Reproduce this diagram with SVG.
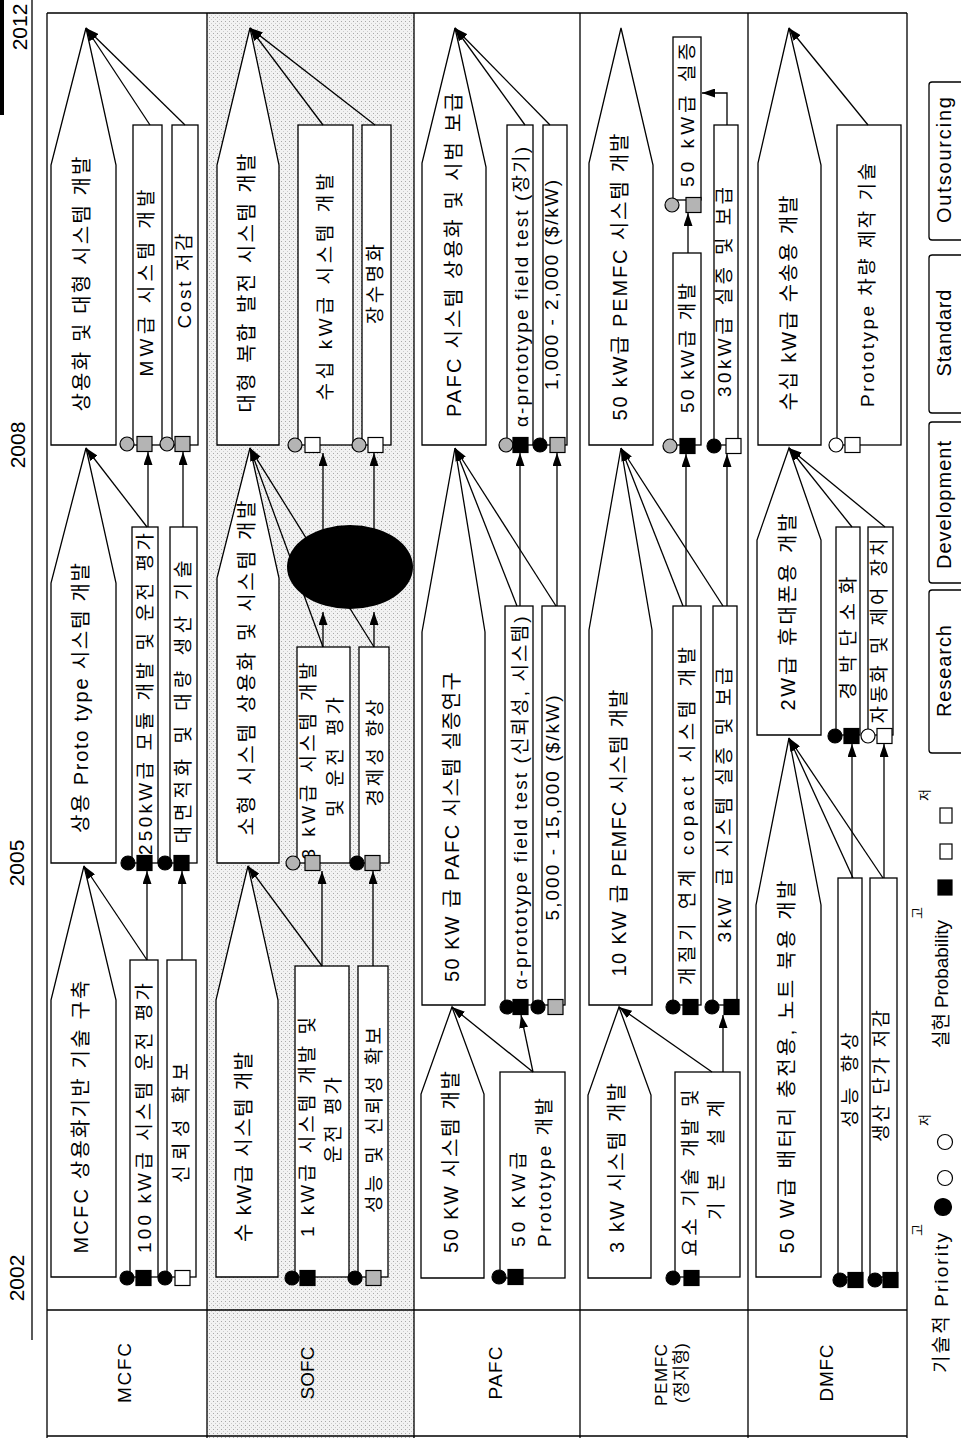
<svg xmlns="http://www.w3.org/2000/svg" width="961" height="1438" viewBox="0 0 961 1438">
<defs>
<style>
text{font-family:"Liberation Sans","Noto Sans CJK KR",sans-serif;fill:#000;text-anchor:middle}
.tp{font-size:20px}
.tb{font-size:19px}
.tl{font-size:19px}
.tl2{font-size:17px}
.tk{font-size:20px}
.ty{font-size:21px}
.ts{font-size:13px}
.st{text-anchor:start}
.fr{stroke:#000;stroke-width:1.3;fill:none}
.nd{fill:#fff;stroke:#000;stroke-width:1.3}
.cn{stroke:#000;stroke-width:1.3;fill:none;marker-end:url(#ah)}
.mk{stroke:#000;stroke-width:1.2}
.b{fill:#000}
.g{fill:#b4b4b4}
.w{fill:#fff}
.lg{fill:#fff;stroke:#000;stroke-width:1.3}
</style>
<pattern id="dots" width="4" height="4" patternUnits="userSpaceOnUse">
<rect width="4" height="4" fill="#f2f2f2"/>
<rect x="1" y="1" width="1" height="1" fill="#a8a8a8"/>
<rect x="3" y="3" width="1" height="1" fill="#cccccc"/>
</pattern>
<marker id="ah" viewBox="0 0 13 9" refX="13" refY="4.5" markerWidth="13" markerHeight="9" orient="auto" markerUnits="userSpaceOnUse">
<path d="M0,0 L13,4.5 L0,9 z" fill="#000"/>
</marker>
</defs>

<g id="background">
<rect x="207" y="13" width="207" height="1425" fill="url(#dots)"/>
<rect x="0" y="0" width="4" height="115" fill="#000"/>
<path class="fr" d="M32,0 V1340"/>
<path class="fr" d="M47,13 H907 M47,13 V1438 M907,13 V1438 M207,13 V1438 M414,13 V1438 M580,13 V1438 M748,13 V1438 M47,1310 H907 M47,1436 H907"/>
</g>

<g id="years">
<text class="ty" transform="translate(20,27) rotate(-90)" y="7">2012</text>
<text class="ty" transform="translate(18,445) rotate(-90)" y="7">2008</text>
<text class="ty" transform="translate(17,863) rotate(-90)" y="7">2005</text>
<text class="ty" transform="translate(17,1278) rotate(-90)" y="7">2002</text>
</g>

<g id="row-labels">
<text class="tl" transform="translate(124,1373) rotate(-90)" y="7" textLength="60">MCFC</text>
<text class="tl" transform="translate(307,1373) rotate(-90)" y="7" textLength="53">SOFC</text>
<text class="tl" transform="translate(495,1373) rotate(-90)" y="7" textLength="53">PAFC</text>
<text class="tl2" transform="translate(661,1375) rotate(-90)" y="6" textLength="62">PEMFC</text>
<text class="tl2" transform="translate(681,1373) rotate(-90)" y="6" textLength="60">(정지형)</text>
<text class="tl" transform="translate(826,1373) rotate(-90)" y="7" textLength="57">DMFC</text>
</g>

<!-- MCFC -->
<g id="mcfc-s3">
<polygon class="nd" points="51,445 51,165 86,28 116,165 116,445"/>
<text class="tp" transform="translate(82,284) rotate(-90)" y="7" textLength="255">상용화 및 대형 시스템 개발</text>
</g>
<g id="mcfc-s3-mw">
<rect class="nd" x="133" y="125" width="29" height="320"/>
<text class="tb" transform="translate(146,283) rotate(-90)" y="7" textLength="187">MW급 시스템 개발</text>
<circle class="mk g" cx="127" cy="444" r="7"/><rect class="mk g" x="137" y="436.5" width="15" height="15"/>
</g>
<g id="mcfc-s3-cost">
<rect class="nd" x="172" y="125" width="26" height="320"/>
<text class="tb" transform="translate(184,281) rotate(-90)" y="7" textLength="95">Cost 저감</text>
<circle class="mk g" cx="167" cy="444" r="7"/><rect class="mk g" x="175" y="436.5" width="15" height="15"/>
</g>
<g id="mcfc-s2">
<polygon class="nd" points="51,863 51,583 86,448 116,583 116,863"/>
<text class="tp" transform="translate(81,698) rotate(-90)" y="7" textLength="270">상용 Proto type 시스템 개발</text>
</g>
<g id="mcfc-s2-250">
<rect class="nd" x="132" y="527" width="26" height="336"/>
<text class="tb" transform="translate(145,694) rotate(-90)" y="7" textLength="322">250kW급 모듈 개발 및 운전 평가</text>
<circle class="mk b" cx="128" cy="863" r="7"/><rect class="mk b" x="137" y="855.5" width="15" height="15"/>
</g>
<g id="mcfc-s2-area">
<rect class="nd" x="170" y="527" width="27" height="336"/>
<text class="tb" transform="translate(183,702) rotate(-90)" y="7" textLength="283">대면적화 및 대량 생산 기술</text>
<circle class="mk b" cx="165" cy="863" r="7"/><rect class="mk b" x="174" y="855.5" width="15" height="15"/>
</g>
<g id="mcfc-s1">
<polygon class="nd" points="51,1277 51,1000 84,866 116,1000 116,1277"/>
<text class="tp" transform="translate(81,1117) rotate(-90)" y="7" textLength="273">MCFC 상용화기반 기술 구축</text>
</g>
<g id="mcfc-s1-100">
<rect class="nd" x="130" y="960" width="28" height="317"/>
<text class="tb" transform="translate(144,1118) rotate(-90)" y="7" textLength="270">100 kW급 시스템 운전 평가</text>
<circle class="mk b" cx="127" cy="1278" r="7"/><rect class="mk b" x="136" y="1270.5" width="15" height="15"/>
</g>
<g id="mcfc-s1-rel">
<rect class="nd" x="167" y="960" width="29" height="317"/>
<text class="tb" transform="translate(181,1123) rotate(-90)" y="7" textLength="120">신뢰성 확보</text>
<circle class="mk b" cx="165" cy="1278" r="7"/><rect class="mk w" x="175" y="1270.5" width="15" height="15"/>
</g>

<!-- SOFC -->
<g id="sofc-s3">
<polygon class="nd" points="217,445 217,165 250,28 279,165 279,445"/>
<text class="tp" transform="translate(247,283) rotate(-90)" y="7" textLength="259">대형 복합 발전 시스템 개발</text>
</g>
<g id="sofc-s3-tens">
<rect class="nd" x="298" y="125" width="55" height="320"/>
<text class="tb" transform="translate(325,287) rotate(-90)" y="7" textLength="227">수십 kW급 시스템 개발</text>
<circle class="mk g" cx="295" cy="445" r="7"/><rect class="mk w" x="305" y="437.5" width="15" height="15"/>
</g>
<g id="sofc-s3-life">
<rect class="nd" x="362" y="125" width="29" height="320"/>
<text class="tb" transform="translate(375,284) rotate(-90)" y="7" textLength="80">장수명화</text>
<circle class="mk g" cx="359" cy="445" r="7"/><rect class="mk w" x="368" y="437.5" width="15" height="15"/>
</g>
<g id="sofc-s2">
<polygon class="nd" points="217,863 217,578 250,448 279,578 279,863"/>
<text class="tp" transform="translate(247,668) rotate(-90)" y="7" textLength="335">소형 시스템 상용화 및 시스템 개발</text>
</g>
<g id="sofc-s2-3kw">
<rect class="nd" x="297" y="647" width="53" height="216"/>
<text class="tb" transform="translate(308,761) rotate(-90)" y="7" textLength="197">3 kW급 시스템 개발</text>
<text class="tb" transform="translate(335,757) rotate(-90)" y="7" textLength="120">및 운전 평가</text>
<circle class="mk g" cx="293" cy="863" r="7"/><rect class="mk g" x="305" y="855.5" width="15" height="15"/>
</g>
<g id="sofc-s2-econ">
<rect class="nd" x="359" y="647" width="30" height="216"/>
<text class="tb" transform="translate(375,753) rotate(-90)" y="7" textLength="107">경제성 향상</text>
<circle class="mk b" cx="357" cy="863" r="7"/><rect class="mk g" x="365" y="855.5" width="15" height="15"/>
</g>
<g id="sofc-s1">
<polygon class="nd" points="216,1277 216,1000 248,866 278,1000 278,1277"/>
<text class="tp" transform="translate(244,1147) rotate(-90)" y="7" textLength="190">수 kW급 시스템 개발</text>
</g>
<g id="sofc-s1-1kw">
<rect class="nd" x="295" y="966" width="54" height="311"/>
<text class="tb" transform="translate(307,1127) rotate(-90)" y="7" textLength="220">1 kW급 시스템 개발 및</text>
<text class="tb" transform="translate(333,1120) rotate(-90)" y="7" textLength="86">운전 평가</text>
<circle class="mk b" cx="292" cy="1278" r="7"/><rect class="mk b" x="300" y="1270.5" width="15" height="15"/>
</g>
<g id="sofc-s1-perf">
<rect class="nd" x="358" y="966" width="30" height="311"/>
<text class="tb" transform="translate(374,1120) rotate(-90)" y="7" textLength="186">성능 및 신뢰성 확보</text>
<circle class="mk b" cx="355" cy="1278" r="7"/><rect class="mk g" x="366" y="1270.5" width="15" height="15"/>
</g>

<!-- PAFC -->
<g id="pafc-s3">
<polygon class="nd" points="422,445 422,163 455,28 486,167 486,445"/>
<text class="tp" transform="translate(454,255) rotate(-90)" y="7" textLength="324">PAFC 시스템 상용화 및 시범 보급</text>
</g>
<g id="pafc-s3-alpha">
<rect class="nd" x="507" y="125" width="26" height="320"/>
<text class="tb" transform="translate(521,287) rotate(-90)" y="7" textLength="280">α-prototype field test (장기)</text>
<circle class="mk g" cx="506" cy="445" r="7"/><rect class="mk b" x="513" y="437.5" width="15" height="15"/>
</g>
<g id="pafc-s3-cost">
<rect class="nd" x="543" y="125" width="24" height="320"/>
<text class="tb" transform="translate(551,285) rotate(-90)" y="7" textLength="210">1,000 - 2,000 ($/kW)</text>
<circle class="mk b" cx="540" cy="445" r="7"/><rect class="mk g" x="550" y="437.5" width="15" height="15"/>
</g>
<g id="pafc-s2">
<polygon class="nd" points="422,1005 422,632 455,448 485,632 485,1005"/>
<text class="tp" transform="translate(452,827) rotate(-90)" y="7" textLength="310">50 KW 급 PAFC 시스템 실증연구</text>
</g>
<g id="pafc-s2-alpha">
<rect class="nd" x="505" y="606" width="28" height="399"/>
<text class="tb" transform="translate(520,803) rotate(-90)" y="7" textLength="373">α-prototype field test (신뢰성, 시스템)</text>
<circle class="mk b" cx="507" cy="1007" r="7"/><rect class="mk b" x="513" y="999.5" width="15" height="15"/>
</g>
<g id="pafc-s2-cost">
<rect class="nd" x="542" y="606" width="23" height="399"/>
<text class="tb" transform="translate(552,808) rotate(-90)" y="7" textLength="225">5,000 - 15,000 ($/kW)</text>
<circle class="mk b" cx="538" cy="1007" r="7"/><rect class="mk g" x="548" y="999.5" width="15" height="15"/>
</g>
<g id="pafc-s1">
<polygon class="nd" points="421,1278 421,1094 452,1007 484,1094 484,1278"/>
<text class="tp" transform="translate(451,1162) rotate(-90)" y="7" textLength="182">50 KW 시스템 개발</text>
</g>
<g id="pafc-s1-proto">
<rect class="nd" x="500" y="1072" width="65" height="206"/>
<text class="tb st" transform="translate(518,1247) rotate(-90)" y="7" textLength="95">50 KW급</text>
<text class="tb st" transform="translate(544,1247) rotate(-90)" y="7" textLength="149">Prototype 개발</text>
<circle class="mk b" cx="499" cy="1277" r="7"/><rect class="mk b" x="508" y="1269.5" width="15" height="15"/>
</g>

<!-- PEMFC -->
<g id="pemfc-s3">
<polygon class="nd" points="589,445 589,163 621,28 653,165 653,445"/>
<text class="tp" transform="translate(620,277) rotate(-90)" y="7" textLength="287">50 kW급 PEMFC 시스템 개발</text>
</g>
<g id="pemfc-s3-demo">
<rect class="nd" x="673" y="37" width="28" height="163"/>
<text class="tb" transform="translate(687,115) rotate(-90)" y="7" textLength="144">50 kW급 실증</text>
<circle class="mk g" cx="672" cy="205" r="7"/><rect class="mk g" x="686" y="197.5" width="15" height="15"/>
</g>
<g id="pemfc-s3-dev">
<rect class="nd" x="673" y="253" width="28" height="192"/>
<text class="tb" transform="translate(687,348) rotate(-90)" y="7" textLength="130">50 kW급 개발</text>
<circle class="mk g" cx="670" cy="446" r="7"/><rect class="mk b" x="680" y="438.5" width="15" height="15"/>
</g>
<g id="pemfc-s3-30kw">
<rect class="nd" x="714" y="125" width="24" height="320"/>
<text class="tb" transform="translate(724,292) rotate(-90)" y="7" textLength="210">30kW급 실증 및 보급</text>
<circle class="mk b" cx="714" cy="446" r="7"/><rect class="mk w" x="726" y="438.5" width="15" height="15"/>
</g>
<g id="pemfc-s2">
<polygon class="nd" points="589,1005 589,630 621,448 652,630 652,1005"/>
<text class="tp" transform="translate(619,833) rotate(-90)" y="7" textLength="287">10 KW 급 PEMFC 시스템 개발</text>
</g>
<g id="pemfc-s2-reform">
<rect class="nd" x="673" y="606" width="28" height="399"/>
<text class="tb" transform="translate(687,816) rotate(-90)" y="7" textLength="338">개질기 연계 copact 시스템 개발</text>
<circle class="mk b" cx="673" cy="1007" r="7"/><rect class="mk b" x="683" y="999.5" width="15" height="15"/>
</g>
<g id="pemfc-s2-3kw">
<rect class="nd" x="713" y="606" width="24" height="399"/>
<text class="tb" transform="translate(724,805) rotate(-90)" y="7" textLength="275">3kW 급 시스템 실증 및 보급</text>
<circle class="mk b" cx="712" cy="1007" r="7"/><rect class="mk b" x="724" y="999.5" width="15" height="15"/>
</g>
<g id="pemfc-s1">
<polygon class="nd" points="588,1278 588,1095 619,1007 651,1095 651,1278"/>
<text class="tp" transform="translate(617,1168) rotate(-90)" y="7" textLength="170">3 kW 시스템 개발</text>
</g>
<g id="pemfc-s1-core">
<rect class="nd" x="675" y="1072" width="65" height="205"/>
<text class="tb" transform="translate(690,1173) rotate(-90)" y="7" textLength="167">요소 기술 개발 및</text>
<text class="tb" transform="translate(716,1160) rotate(-90)" y="7" textLength="120">기본 설계</text>
<circle class="mk b" cx="673" cy="1278" r="7"/><rect class="mk b" x="684" y="1270.5" width="15" height="15"/>
</g>

<!-- DMFC -->
<g id="dmfc-s3">
<polygon class="nd" points="758,445 758,163 789,28 821,165 821,445"/>
<text class="tp" transform="translate(789,303) rotate(-90)" y="7" textLength="215">수십 kW급 수송용 개발</text>
</g>
<g id="dmfc-s3-proto">
<rect class="nd" x="837" y="125" width="64" height="320"/>
<text class="tb" transform="translate(867,285) rotate(-90)" y="7" textLength="244">Prototype 차량 제작 기술</text>
<circle class="mk w" cx="836" cy="445" r="7"/><rect class="mk w" x="845" y="437.5" width="15" height="15"/>
</g>
<g id="dmfc-s2">
<polygon class="nd" points="757,735 757,540 789,448 821,540 821,735"/>
<text class="tp" transform="translate(788,612) rotate(-90)" y="7" textLength="197">2W급 휴대폰용 개발</text>
</g>
<g id="dmfc-s2-slim">
<rect class="nd" x="836" y="527" width="24" height="208"/>
<text class="tb" transform="translate(848,638) rotate(-90)" y="7" textLength="123">경박단소화</text>
<circle class="mk b" cx="835" cy="736" r="7"/><rect class="mk b" x="844" y="728.5" width="15" height="15"/>
</g>
<g id="dmfc-s2-auto">
<rect class="nd" x="868" y="527" width="25" height="208"/>
<text class="tb" transform="translate(879,631) rotate(-90)" y="7" textLength="185">자동화 및 제어 장치</text>
<circle class="mk w" cx="868" cy="736" r="7"/><rect class="mk w" x="877" y="728.5" width="15" height="15"/>
</g>
<g id="dmfc-s1">
<polygon class="nd" points="756,1277 756,905 789,738 821,905 821,1277"/>
<text class="tp" transform="translate(787,1067) rotate(-90)" y="7" textLength="373">50 W급 배터리 충전용, 노트 북용 개발</text>
</g>
<g id="dmfc-s1-perf">
<rect class="nd" x="838" y="878" width="24" height="399"/>
<text class="tb" transform="translate(850,1080) rotate(-90)" y="7" textLength="95">성능 향상</text>
<circle class="mk b" cx="840" cy="1280" r="7"/><rect class="mk b" x="848" y="1272.5" width="15" height="15"/>
</g>
<g id="dmfc-s1-cost">
<rect class="nd" x="870" y="878" width="27" height="399"/>
<text class="tb" transform="translate(881,1076) rotate(-90)" y="7" textLength="132">생산 단가 저감</text>
<circle class="mk b" cx="875" cy="1280" r="7"/><rect class="mk b" x="883" y="1272.5" width="15" height="15"/>
</g>

<g id="connectors">
<path class="cn" d="M150,125 L86,28"/>
<path class="cn" d="M185,125 L86,28"/>
<path class="cn" d="M147,527 L86,448"/>
<path class="cn" d="M147,960 L84,866"/>
<path class="cn" d="M323,125 L250,28"/>
<path class="cn" d="M375,125 L250,28"/>
<path class="cn" d="M323,647 L250,448"/>
<path class="cn" d="M374,647 L250,448"/>
<path class="cn" d="M322,966 L248,866"/>
<path class="cn" d="M525,125 L455,28"/>
<path class="cn" d="M550,125 L455,28"/>
<path class="cn" d="M517,606 L455,448"/>
<path class="cn" d="M556,606 L455,448"/>
<path class="cn" d="M533,1072 L452,1007"/>
<path class="cn" d="M683,606 L621,448"/>
<path class="cn" d="M723,606 L621,448"/>
<path class="cn" d="M712,1072 L619,1007"/>
<path class="cn" d="M868,125 L789,28"/>
<path class="cn" d="M852,527 L789,448"/>
<path class="cn" d="M885,527 L789,448"/>
<path class="cn" d="M853,878 L789,738"/>
<path class="cn" d="M883,878 L789,738"/>
<path class="cn" d="M148,527 V452"/>
<path class="cn" d="M183,527 V452"/>
<path class="cn" d="M147,960 V871"/>
<path class="cn" d="M182,960 V871"/>
<path class="cn" d="M323,647 V612"/>
<path class="cn" d="M374,647 V612"/>
<path class="cn" d="M323,540 V453"/>
<path class="cn" d="M374,540 V453"/>
<path class="cn" d="M322,966 V871"/>
<path class="cn" d="M373,966 V871"/>
<path class="cn" d="M520,606 V453"/>
<path class="cn" d="M557,606 V453"/>
<path class="cn" d="M533,1072 L521,1015"/>
<path class="cn" d="M688,253 V213"/>
<path class="cn" d="M686,606 V454"/>
<path class="cn" d="M727,606 V454"/>
<path class="cn" d="M723,1072 V1015"/>
<path class="cn" d="M727,125 V93 H702"/>
<path class="cn" d="M852,878 V744"/>
<path class="cn" d="M884,878 V744"/>
</g>

<g id="blob">
<ellipse cx="350" cy="567" rx="63" ry="42" fill="#000"/>
</g>

<g id="legend">
<text class="tb" transform="translate(941,1303) rotate(-90)" y="7" textLength="140">기술적 Priority</text>
<text class="ts" transform="translate(917,1230) rotate(-90)" y="5">고</text>
<circle class="mk b" cx="943" cy="1207" r="8.5"/>
<circle class="mk w" cx="945" cy="1178" r="7.5"/>
<circle class="mk w" cx="945" cy="1142" r="7.5"/>
<text class="ts" transform="translate(924,1120) rotate(-90)" y="5">저</text>
<text class="tb" transform="translate(941,984) rotate(-90)" y="7" textLength="128">실현 Probability</text>
<text class="ts" transform="translate(917,913) rotate(-90)" y="5">고</text>
<rect class="mk b" x="938" y="880" width="14" height="15"/>
<rect class="mk w" x="940" y="844" width="12" height="15"/>
<rect class="mk w" x="940" y="808" width="12" height="15"/>
<text class="ts" transform="translate(924,795) rotate(-90)" y="5">저</text>
<rect class="lg" x="929" y="590" width="50" height="163" rx="3"/>
<text class="tk" transform="translate(944,671) rotate(-90)" y="7" textLength="92">Research</text>
<rect class="lg" x="929" y="422" width="50" height="161" rx="3"/>
<text class="tk" transform="translate(944,505) rotate(-90)" y="7" textLength="128">Development</text>
<rect class="lg" x="929" y="255" width="50" height="158" rx="3"/>
<text class="tk" transform="translate(944,333) rotate(-90)" y="7" textLength="87">Standard</text>
<rect class="lg" x="929" y="82" width="50" height="158" rx="3"/>
<text class="tk" transform="translate(944,160) rotate(-90)" y="7" textLength="126">Outsourcing</text>
</g>
</svg>
